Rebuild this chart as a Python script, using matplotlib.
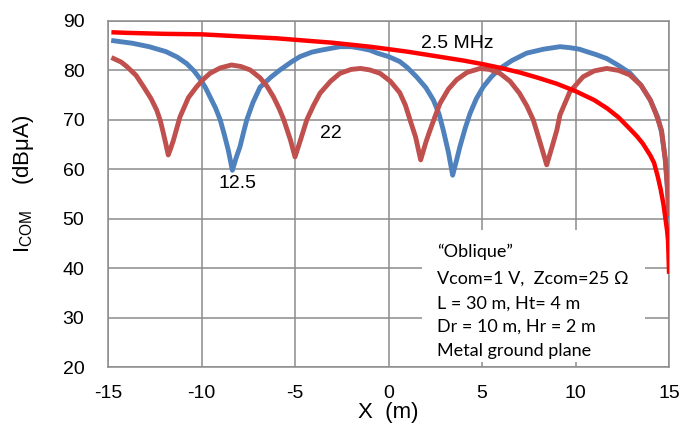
import matplotlib.pyplot as plt
from matplotlib.patches import Rectangle

# 2.5 MHz
x_red = [-14.7, -14.0, -13, -12, -11, -10, -9, -8, -7, -6, -5, -4, -3, -2, -1, 0, 1, 2, 3, 4,
         5, 6, 7, 8, 9, 10, 11, 11.7, 12.3, 12.9, 13.3, 13.6, 14.0, 14.2, 14.4, 14.55, 14.7,
         14.8, 14.9, 14.95, 15.0]
y_red = [87.7, 87.6, 87.5, 87.4, 87.35, 87.3, 87.1, 86.9, 86.7, 86.5, 86.2, 85.9, 85.6, 85.2,
         84.8, 84.3, 83.8, 83.2, 82.6, 82.0, 81.3, 80.5, 79.6, 78.5, 77.3, 75.8, 74.0, 72.3,
         70.5, 68.2, 66.6, 65.2, 62.8, 61.3, 58.5, 56.0, 53.0, 50.3, 47.5, 45.5, 39.3]

# 12.5 MHz
x_blue = [-14.7, -13.7, -12.8, -11.9, -11.3, -10.8, -10.4, -10.1, -9.8, -9.55, -9.25, -9.0,
          -8.78, -8.57, -8.35, -8.15, -7.94, -7.75, -7.58, -7.25, -6.87, -6.3, -5.8, -5.2,
          -4.73, -4.1, -3.6, -2.6, -2.0, -1.5, -1.0, -0.6, 0.0, 0.6, 1.0, 1.5, 2.0, 2.4, 2.7,
          2.93, 3.2, 3.43, 3.65, 3.82, 4.1, 4.36, 4.7, 5.07, 5.5, 5.96, 6.6, 7.39, 8.3, 9.17,
          9.7, 10.2, 10.6, 11.1, 11.67, 12.3, 12.9, 13.5, 14.0, 14.4, 14.6, 14.8, 14.9, 15.0]
y_blue = [86.0, 85.5, 84.8, 83.8, 82.7, 81.4, 79.9, 78.4, 76.6, 74.7, 72.4, 70.0,
          67.0, 63.9, 59.8, 62.3, 64.6, 67.5, 70.0, 73.5, 76.6, 78.6, 80.1, 81.7,
          82.8, 83.7, 84.1, 84.8, 84.8, 84.5, 84.1, 83.5, 82.8, 81.8, 80.6, 78.7, 76.5, 74.0, 71.2,
          67.9, 63.5, 58.8, 62.0, 64.6, 68.3, 71.3, 74.3, 76.7, 78.7, 80.4, 82.0, 83.5, 84.3, 84.8,
          84.6, 84.3, 83.8, 83.2, 82.4, 81.0, 79.5, 77.0, 74.0, 70.5, 67.5, 62.0, 57.0, 50.5]

# 22 MHz
x_brown = [-14.7, -14.3, -14.0, -13.5, -13.1, -12.7, -12.4, -12.2, -12.04, -11.9, -11.78,
           -11.65, -11.5, -11.15, -10.7, -10.26, -9.9, -9.55, -9.0, -8.4, -7.9, -7.4, -6.87,
           -6.5, -6.16, -5.85, -5.6, -5.25, -5.0, -4.7, -4.37, -4.0, -3.66, -3.1, -2.6, -2.0,
           -1.5, -1.0, -0.45, 0.1, 0.6, 0.9, 1.15, 1.45, 1.72, 2.0, 2.22, 2.5, 2.75, 3.2, 3.64,
           4.2, 4.9, 5.4, 5.96, 6.5, 7.0, 7.4, 7.74, 8.1, 8.46, 8.75, 9.0, 9.17, 9.7, 10.4,
           11.0, 11.67, 12.3, 12.9, 13.5, 14.0, 14.3, 14.6, 14.8, 14.9, 15.0]
y_brown = [82.4, 81.7, 80.8, 79.0, 76.7, 74.3, 72.0, 69.8, 67.3, 65.0, 62.9,
           64.2, 65.9, 70.6, 74.5, 76.7, 78.2, 79.4, 80.5, 81.1, 80.8, 80.1, 78.5,
           76.8, 74.7, 72.3, 70.0, 66.0, 62.5, 66.0, 70.0, 73.0, 75.4, 77.8, 79.4, 80.2,
           80.4, 80.1, 79.4, 77.8, 75.5, 73.0, 70.0, 66.5, 61.9, 65.5, 67.9, 70.8, 73.3, 76.2, 78.1,
           79.6, 80.4, 80.2, 79.4, 77.8, 75.4, 72.8, 70.0, 65.5, 60.9, 64.6, 67.9, 71.0, 75.7, 78.7,
           79.9, 80.4, 80.0, 79.1, 77.0, 74.0, 71.2, 67.9, 62.0, 57.0, 51.0]

info_lines = ['\u201cOblique\u201d',
              'Vcom=1 V,  Zcom=25 \u03a9',
              'L = 30 m, Ht= 4 m',
              'Dr = 10 m, Hr = 2 m',
              'Metal ground plane']

plt.rcParams['font.family'] = ['Liberation Sans', 'DejaVu Sans']
plt.rcParams['axes.unicode_minus'] = False

fig = plt.figure(figsize=(6.81, 4.30), dpi=100)
ax = fig.add_axes([0.1586, 0.1465, 0.8238, 0.8047])

ax.plot(x_blue, y_blue, color='#4F81BD', lw=3.5, zorder=3, solid_joinstyle='round')
ax.plot(x_brown, y_brown, color='#C0504D', lw=3.5, zorder=4, solid_joinstyle='round')
ax.plot(x_red, y_red, color='#FF0000', lw=3.2, zorder=5, solid_joinstyle='round')

ax.set_xlim(-15, 15)
ax.set_ylim(20, 90)
ax.set_xticks(range(-15, 16, 5))
ax.set_yticks(range(20, 91, 10))
ax.grid(True, color='#8C8C8C', lw=1.1, zorder=0)
ax.set_axisbelow(True)
for s in ax.spines.values():
    s.set_color('#8C8C8C')
    s.set_linewidth(1.1)
ax.tick_params(length=0, labelsize=14)
ax.tick_params(axis='y', pad=17)
ax.tick_params(axis='x', pad=13)

ax.set_xlabel('X  (m)', fontsize=16, labelpad=0)
ax.set_ylabel('I$_{\\mathregular{COM}}$    (dB\u03bcA)', fontsize=16)
ax.yaxis.set_label_coords(-0.128, 0.53)

ax.text(3.7, 85.5, '2.5 MHz', fontsize=14, ha='center', va='center', zorder=6)
ax.text(-8.05, 57.2, '12.5', fontsize=14, ha='center', va='center', zorder=6)
ax.text(-3.1, 67.3, '22', fontsize=14, ha='center', va='center', zorder=6)

ax.add_patch(Rectangle((1.8, 21.0), 11.9, 26.7, facecolor='white', edgecolor='none', zorder=1))
line_y = [43.4, 37.9, 32.8, 28.1, 23.2]
for txt, yy in zip(info_lines, line_y):
    ax.text(2.6, yy, txt, fontsize=13, family=['Lato', 'DejaVu Sans'],
            ha='left', va='center', zorder=6)

fig.savefig('out.png', dpi=100)
